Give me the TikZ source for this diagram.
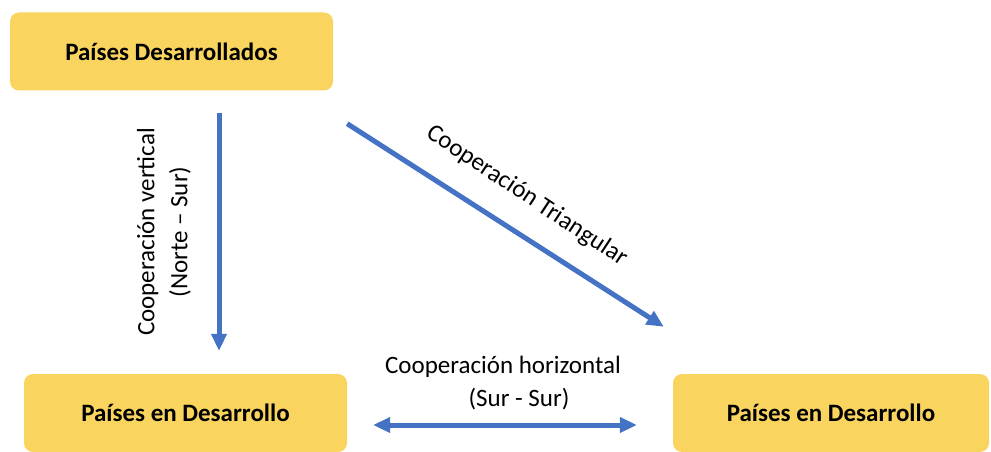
\documentclass[tikz,border=0pt]{standalone}
\usepackage{fontspec}
\setmainfont{Carlito}
\usetikzlibrary{arrows.meta}

\definecolor{boxyellow}{RGB}{249,212,94}
\definecolor{arrowblue}{RGB}{68,114,196}

\tikzset{
  pais/.style={fill=boxyellow,rounded corners=9pt,minimum width=323pt,minimum height=78pt,
    font=\fontsize{25}{30}\selectfont\bfseries,inner sep=0pt},
  flecha/.style={draw=arrowblue,line width=5pt,-{Triangle[length=17pt,width=15pt]}},
  dflecha/.style={draw=arrowblue,line width=5pt,{Triangle[length=17pt,width=15pt]}-{Triangle[length=17pt,width=15pt]}},
  etiqueta/.style={font=\fontsize{25}{33}\selectfont,align=center,inner sep=0pt}
}

\begin{document}
\begin{tikzpicture}[x=1pt,y=-1pt]
  \useasboundingbox (0,0) rectangle (991,452);

  \node[pais] (D) at (171.5,51.5) {Países Desarrollados};
  \node[pais] (E1) at (185.5,413) {Países en Desarrollo};
  \node[pais,minimum width=316pt] (E2) at (831,413) {Países en Desarrollo};

  \coordinate (vx) at (219,0);

  \draw[flecha,shorten <=22pt,shorten >=23pt] (D.south -| vx) -- (E1.north -| vx);
  \draw[flecha] ([xshift=14pt,yshift=-33pt]D.south east) -- ([xshift=-9pt,yshift=47pt]E2.north west);
  \draw[dflecha,shorten <=26pt,shorten >=36pt] ([yshift=-12pt]E1.east) -- ([yshift=-12pt]E2.west);

  \node[etiqueta,rotate=90] (lv) at (164,232) {Cooperación vertical\\(Norte -- Sur)};
  \node[etiqueta,rotate=-33.5] (lt) at (527,196) {Cooperación Triangular};
  \node[etiqueta] (lh) at (503,383) {Cooperación horizontal\\\hspace{32pt}(Sur - Sur)};
\end{tikzpicture}
\end{document}
